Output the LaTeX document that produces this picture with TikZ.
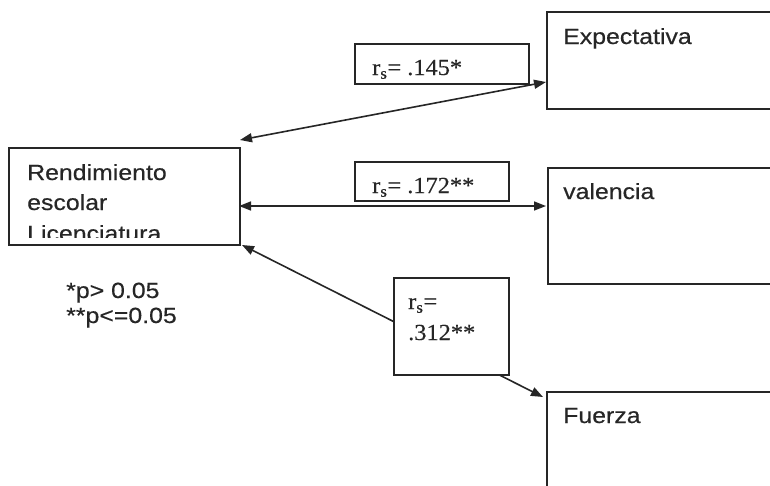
\documentclass[tikz,border=0pt]{standalone}
\usepackage{fontspec}
\setmainfont{Liberation Sans}
\newfontfamily\lsans[FakeStretch=1.13,FakeBold=0.4]{Liberation Sans}
\newfontfamily\lserif[FakeStretch=1.06,FakeBold=0.3]{Liberation Serif}
\usetikzlibrary{arrows.meta}
\definecolor{ink}{HTML}{262626}
\tikzset{
  box/.style={draw=ink, line width=1.6pt, inner sep=0pt, anchor=north west, fill=white},
  lab/.style={inner sep=0pt, anchor=base west, text=ink, font=\lsans\fontsize{22}{26}\selectfont},
  rlab/.style={inner sep=0pt, anchor=base west, text=ink, font=\lserif\fontsize{23}{27}\selectfont},
  conn/.style={draw=ink, line width=1.6pt},
  tips/.style={{Triangle[length=12pt,width=9pt]}-{Triangle[length=12pt,width=9pt]}}
}
\begin{document}
\begin{tikzpicture}[x=1pt,y=-1pt]
\useasboundingbox (0,0) rectangle (770,485);
\clip (0,0) rectangle (770,485);
\fill[white] (0,0) rectangle (770,485);
% arrow end points
\coordinate (a1s) at (240,140);
\coordinate (a1e) at (546,82);
\coordinate (a2s) at (239,206);
\coordinate (a2e) at (546,206);
\coordinate (a3s) at (242,245);
\coordinate (a3e) at (543,397);
% connectors
\draw[conn,tips] (a1s) -- (a1e);
\draw[conn,tips] (a2s) -- (a2e);
\draw[conn,tips] (a3s) -- (a3e);
% boxes
\node[box, minimum width=231pt, minimum height=97pt] (rend) at (8,147) {};
\node[box, minimum width=260pt, minimum height=97pt] (exp) at (546,11) {};
\node[box, minimum width=260pt, minimum height=116pt] (val) at (547,167) {};
\node[box, minimum width=260pt, minimum height=120pt] (fue) at (546,391) {};
\node[box, minimum width=174pt, minimum height=40pt] (r1) at (354,43) {};
\node[box, minimum width=154pt, minimum height=39pt] (r2) at (354,161) {};
\node[box, minimum width=115pt, minimum height=97pt] (r3) at (393,277) {};
% texts
\node[lab] (tr1) at (27,180) {Rendimiento};
\node[lab] (tr2) at (27,210) {escolar};
\begin{scope}
  \clip (10,215) rectangle (237,237);
  \node[lab] (tr3) at (27,241) {Licenciatura};
\end{scope}
\node[lab] (texp) at (563,44) {Expectativa};
\node[lab] (tval) at (563,199) {valencia};
\node[lab] (tfue) at (563,423) {Fuerza};
\node[lab] (leg1) at (66,298) {*p> 0.05};
\node[lab] (leg2) at (66,323) {**p<=0.05};
\node[rlab] (tr1a) at (372,75) {r\textsubscript{s}= .145*};
\node[rlab] (tr2a) at (372,193) {r\textsubscript{s}= .172**};
\node[rlab] (tr3a) at (408,309) {r\textsubscript{s}=};
\node[rlab] (tr3b) at (408,340) {.312**};
\end{tikzpicture}
\end{document}
